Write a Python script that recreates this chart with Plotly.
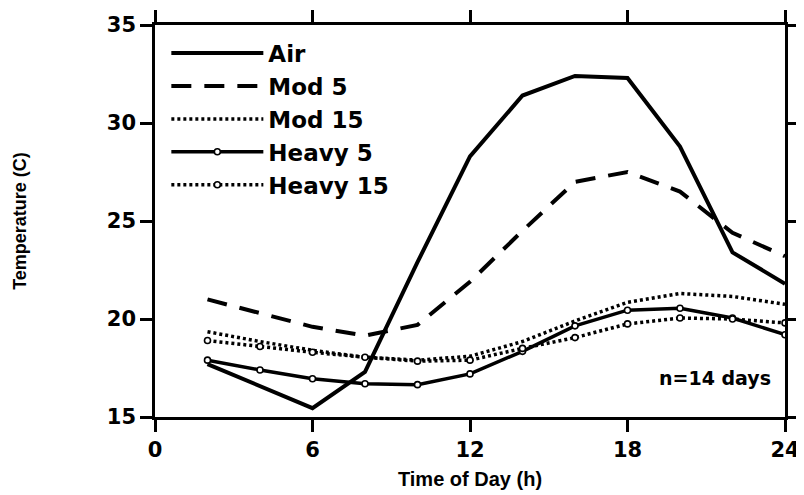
import plotly.graph_objects as go

hours = [2, 4, 6, 8, 10, 12, 14, 16, 18, 20, 22, 24]
air = [17.7, 16.6, 15.45, 17.3, 22.9, 28.3, 31.4, 32.4, 32.3, 28.8, 23.4, 21.8]
mod5 = [21.0, 20.3, 19.6, 19.15, 19.7, 21.9, 24.5, 27.0, 27.5, 26.5, 24.4, 23.2]
mod15 = [19.35, 18.85, 18.4, 18.05, 17.9, 18.1, 18.85, 19.9, 20.85, 21.3, 21.15, 20.75]
heavy5 = [17.9, 17.4, 16.95, 16.7, 16.65, 17.2, 18.35, 19.65, 20.45, 20.55, 20.05, 19.2]
heavy15 = [18.9, 18.6, 18.3, 18.05, 17.85, 17.9, 18.5, 19.05, 19.75, 20.05, 20.0, 19.8]

x_ticks = [0, 6, 12, 18, 24]
y_ticks = [15, 20, 25, 30, 35]

BOLD = "DejaVu Sans"
NARROW = "Liberation Sans Narrow, Liberation Sans, Arial"
marker = dict(symbol="circle", size=6, color="white", line=dict(color="black", width=1.6))

fig = go.Figure()
fig.add_trace(go.Scatter(x=hours, y=air, name="Air", mode="lines",
                         line=dict(color="black", width=4), legendgroup="a"))
fig.add_trace(go.Scatter(x=hours, y=mod5, name="Mod 5", mode="lines",
                         line=dict(color="black", width=4, dash="20px,13px"), legendgroup="b"))
fig.add_trace(go.Scatter(x=hours, y=mod15, name="Mod 15", mode="lines",
                         line=dict(color="black", width=3.5, dash="3px,3px"), legendgroup="c"))
fig.add_trace(go.Scatter(x=hours, y=heavy5, name="Heavy 5", mode="lines+markers",
                         line=dict(color="black", width=3.5), marker=marker, legendgroup="d"))
fig.add_trace(go.Scatter(x=hours, y=heavy15, name="Heavy 15", mode="lines+markers",
                         line=dict(color="black", width=3.5, dash="3px,3px"), marker=marker, legendgroup="e"))

fig.add_annotation(x=23.55, y=17.0, xref="x", yref="y", text="n=14 days", showarrow=False,
                   xanchor="right", yanchor="middle",
                   font=dict(family=BOLD, size=19, color="black", weight="bold"))

axis_common = dict(showline=True, linecolor="black", linewidth=2.5, mirror="ticks",
                   ticks="outside", ticklen=12, tickwidth=2.5, tickcolor="black",
                   showgrid=False, zeroline=False,
                   tickfont=dict(family=BOLD, size=21, color="black", weight="bold"))

fig.update_xaxes(range=[0, 24], tickvals=x_ticks, ticktext=[str(v) for v in x_ticks],
                 title=dict(text="Time of Day (h)", standoff=12,
                            font=dict(family=NARROW, size=20, color="black", weight="bold")),
                 automargin=False, **axis_common)
fig.update_yaxes(range=[15, 35], tickvals=y_ticks, ticktext=[str(v) for v in y_ticks],
                 title=dict(text="Temperature (C)", standoff=76,
                            font=dict(family=NARROW, size=18, color="black", weight="bold")),
                 automargin=False, **axis_common)

fig.update_layout(
    width=796, height=487,
    margin=dict(l=147, r=19, t=17, b=78),
    paper_bgcolor="white", plot_bgcolor="white",
    showlegend=True,
    legend=dict(x=0.018, y=0.983, xanchor="left", yanchor="top", bgcolor="rgba(0,0,0,0)",
                itemwidth=92, tracegroupgap=0,
                font=dict(family=BOLD, size=23, color="black", weight="bold")),
)

fig.write_html("out.html")
